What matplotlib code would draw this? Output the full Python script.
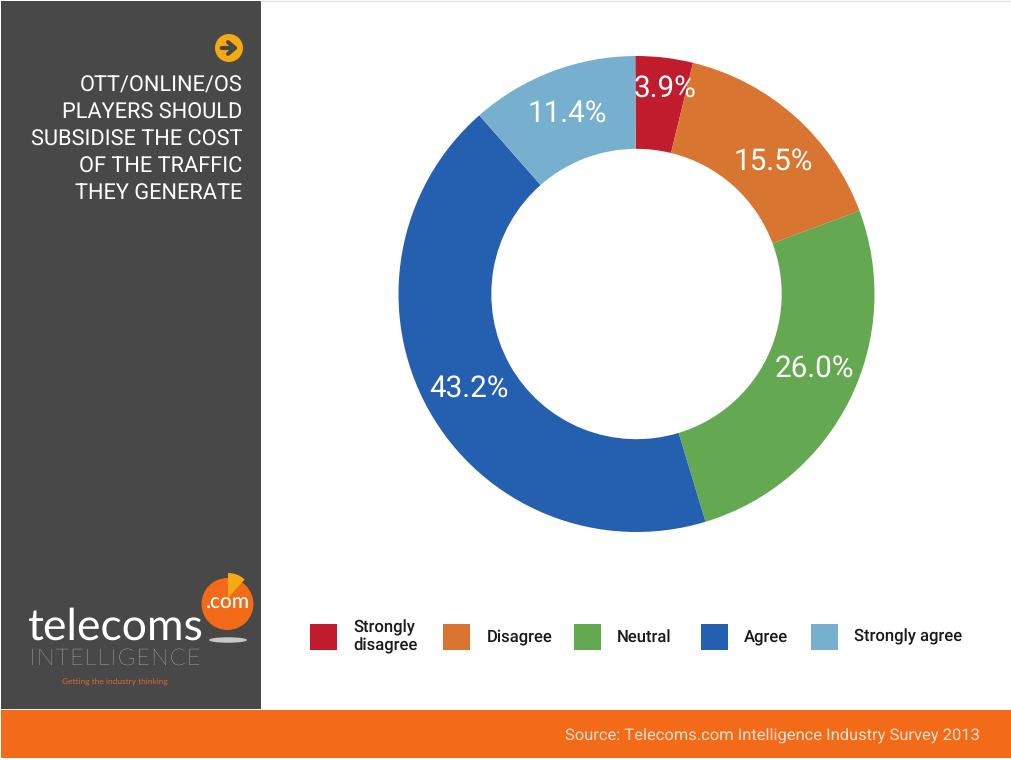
import matplotlib
matplotlib.use('Agg')
import matplotlib.pyplot as plt
from matplotlib.patches import Rectangle, Circle, Ellipse, Wedge

plt.rcParams['font.family'] = ['Roboto', 'DejaVu Sans']
plt.rcParams['text.hinting'] = 'no_hinting'

categories = ['Strongly\ndisagree', 'Disagree', 'Neutral', 'Agree', 'Strongly agree']
values = [3.9, 15.5, 26.0, 43.2, 11.4]
colors = ['#c01c2e', '#d87530', '#64a952', '#2560b0', '#77afce']
title_lines = ['OTT/ONLINE/OS', 'PLAYERS SHOULD', 'SUBSIDISE THE COST', 'OF THE TRAFFIC', 'THEY GENERATE']
source = 'Source: Telecoms.com Intelligence Industry Survey 2013'

W, H = 1012, 760
DARK = '#484848'
ORANGE = '#f36a18'
AMBER = '#f5aa14'

fig = plt.figure(figsize=(W / 100, H / 100), dpi=100, facecolor='white')

# page furniture, in pixel coordinates
bg = fig.add_axes([0, 0, 1, 1])
bg.set_xlim(0, W)
bg.set_ylim(H, 0)
bg.axis('off')
bg.plot([261, W], [0.5, 0.5], color='#e4e4e4', lw=1)
bg.add_patch(Rectangle((1, 1), 260, 708, color=DARK, lw=0))
bg.add_patch(Rectangle((1, 710), W, 48, color=ORANGE, lw=0))

# arrow icon
bg.add_patch(Circle((229, 48), 14, color=AMBER, lw=0))
bg.annotate('', xy=(241, 48), xytext=(219, 48),
            arrowprops=dict(arrowstyle='->,head_length=0.5,head_width=0.42', color=DARK, lw=3))

# question text
for i, line in enumerate(title_lines):
    bg.text(242.5, 86 + i * 27, line, color='white', fontsize=15.68, ha='right', va='center')

# logo
bg.add_patch(Circle((227.5, 604), 26, color=ORANGE, lw=0))
bg.add_patch(Wedge((228, 598), 25, -90, -48, color=AMBER, lw=0, zorder=3))
bg.add_patch(Ellipse((228, 640), 38, 5.5, color='#c8c8c8', lw=0))
bg.text(228, 603, '.com', color='white', fontsize=15, fontfamily='Lato', fontweight='medium',
        ha='center', va='center', zorder=4)
bg.text(27, 627, 'telecoms', color='white', fontsize=32, fontfamily='Lato', ha='left', va='center')
bg.text(30, 659, '\u200a'.join('INTELLIGENCE'), color='white', fontsize=16.6,
        family=['Lato', 'DejaVu Sans'], fontweight='light', ha='left', va='center')
bg.text(62, 682, 'Getting the industry thinking', color='#d86a2c', fontsize=6.05, fontfamily='Lato',
        ha='left', va='center')

# donut
ax = fig.add_axes([398.5 / W, 1 - 532 / H, 476 / W, 476 / H])
wedges, _, autotexts = ax.pie(values, colors=colors, startangle=90.3, counterclock=False, radius=1,
                              wedgeprops=dict(width=0.39), autopct='%.1f%%',
                              textprops=dict(color='white', fontsize=21.3))
ax.set_xlim(-1, 1)
ax.set_ylim(-1, 1)
# labels were placed by hand in the original
label_pos = [(0.120, 0.862), (0.574, 0.555), (0.746, -0.311), (-0.704, -0.395), (-0.292, 0.757)]
for t, pos in zip(autotexts, label_pos):
    t.set_position(pos)

# legend
swatch_x = [310, 443, 574, 701, 811]
label_x = [353, 487, 617, 744, 854]
for name, col, sx, lx in zip(categories, colors, swatch_x, label_x):
    bg.add_patch(Rectangle((sx, 624), 27, 26, color=col, lw=0))
    bg.text(lx, 637, name, color='#1a1a1a', fontsize=12, fontweight='medium',
            ha='left', va='center', linespacing=1.1)

bg.text(980, 735, source, color='#fbe3d2', fontsize=11.85, ha='right', va='center')

fig.savefig('out.png', dpi=100)
